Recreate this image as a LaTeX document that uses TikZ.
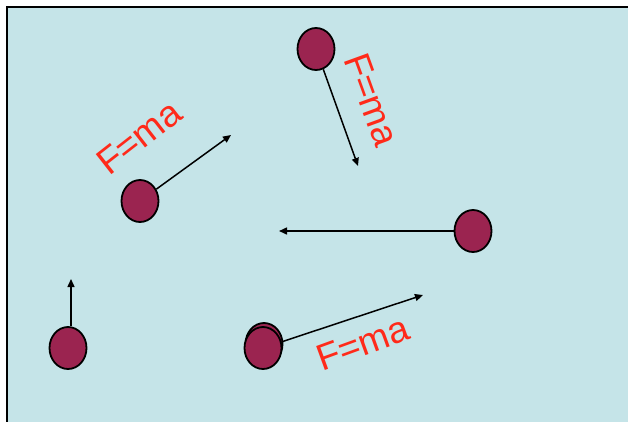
\documentclass[tikz,border=0pt]{standalone}
\usepackage{fontspec}
\setmainfont{Liberation Sans}
\usetikzlibrary{arrows.meta,shapes.geometric}
\definecolor{tank}{RGB}{197,228,232}
\definecolor{ballc}{RGB}{155,36,80}
\definecolor{lawc}{RGB}{255,42,26}
\tikzset{
  ball/.style={ellipse, draw=black, line width=1.8pt, fill=ballc,
               minimum width=37pt, minimum height=42pt, inner sep=0pt},
  farr/.style={-{Triangle[length=8pt, width=7pt]}, line width=1.5pt, black},
  law/.style={font=\fontsize{37}{40}\selectfont, text=lawc, inner sep=0pt},
}

\begin{document}
\begin{tikzpicture}[x=1pt, y=-1pt]
    \useasboundingbox (0,0) rectangle (628,421);
    \fill[white] (0,0) rectangle (628,421);
    \begin{scope}
      \clip (0,0) rectangle (628,421);
      \draw[fill=tank, line width=2pt] (7,7) rectangle (640,440);
    \end{scope}
    % balls
    \node[ball] (b1) at (316,49) {};
    \node[ball] (b2) at (140,201) {};
    \node[ball] (b3) at (473,231) {};
    \node[ball] (b4) at (68,348) {};
    \node[ball] (b5a) at (264,344) {};
    \node[ball] (b5) at (263,348) {};
    % arrow tips
    \coordinate (t1) at (358,166);
    \coordinate (t2) at (231,135);
    \coordinate (t3) at (279,231);
    \coordinate (t4) at (71,279);
    \coordinate (t5) at (423,295);
    \draw[farr] (b1) -- (t1);
    \draw[farr] (b2) -- (t2);
    \draw[farr] (b3) -- (t3);
    \draw[farr] (t4 |- b4.north) -- (t4);
    \draw[farr] (b5) -- (t5);
    % labels
    \node[law, rotate=-70] (l1) at (372,100) {F=ma};
    \node[law, rotate=38] (l2) at (139,137) {F=ma};
    \node[law, rotate=20] (l5) at (363,343) {F=ma};
\end{tikzpicture}
\end{document}
